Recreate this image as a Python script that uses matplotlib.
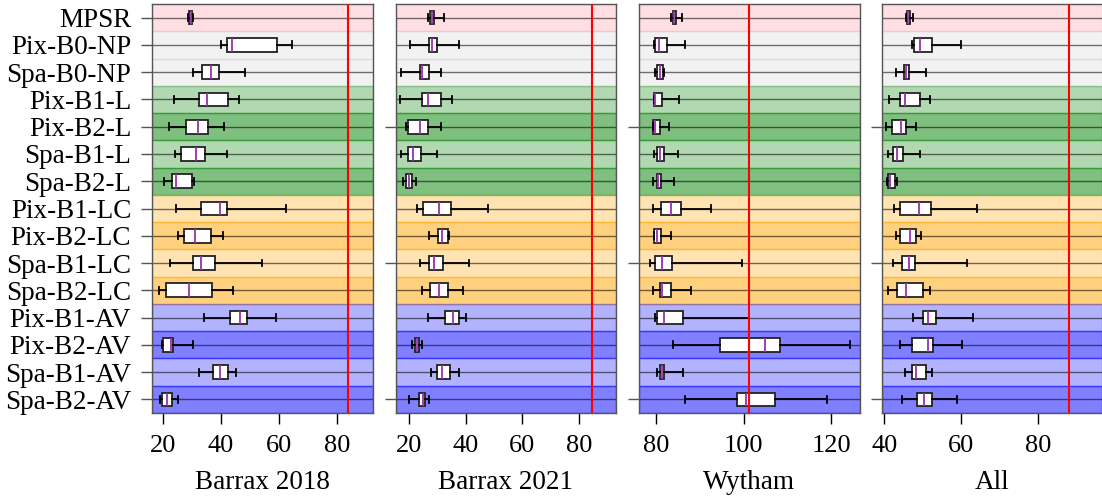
import matplotlib.pyplot as plt

plt.rcParams['font.family'] = ['Liberation Serif', 'DejaVu Serif']

methods = ['MPSR', 'Pix-B0-NP', 'Spa-B0-NP', 'Pix-B1-L', 'Pix-B2-L', 'Spa-B1-L', 'Spa-B2-L',
           'Pix-B1-LC', 'Pix-B2-LC', 'Spa-B1-LC', 'Spa-B2-LC',
           'Pix-B1-AV', 'Pix-B2-AV', 'Spa-B1-AV', 'Spa-B2-AV']
datasets = ['Barrax 2018', 'Barrax 2021', 'Wytham', 'All']

# rows: whisker low, q1, median, q3, whisker high (one row per method)
barrax2018 = [
    (28.7, 28.9, 29.5, 30.0, 30.4),
    (40.1, 42.2, 43.7, 59.2, 64.6),
    (30.5, 33.4, 36.4, 39.2, 48.4),
    (23.8, 32.5, 35.1, 42.3, 46.2),
    (22.1, 28.0, 32.0, 35.5, 41.0),
    (24.0, 26.1, 31.3, 34.6, 42.0),
    (20.5, 23.2, 24.4, 30.0, 30.7),
    (24.4, 33.2, 39.7, 42.0, 62.5),
    (25.2, 27.4, 31.0, 36.7, 40.6),
    (22.4, 30.5, 33.1, 37.8, 54.2),
    (18.6, 21.1, 28.9, 36.9, 44.3),
    (34.3, 43.0, 46.6, 49.1, 58.9),
    (19.8, 20.1, 22.6, 23.4, 30.5),
    (32.5, 37.2, 39.8, 42.4, 45.3),
    (19.1, 19.8, 21.3, 23.2, 25.2),
]
barrax2021 = [
    (26.7, 27.6, 28.2, 28.8, 32.5),
    (20.5, 27.2, 28.3, 30.1, 37.8),
    (17.3, 24.0, 24.8, 27.0, 31.4),
    (17.0, 24.8, 26.9, 31.2, 35.2),
    (19.1, 19.8, 24.1, 26.7, 31.5),
    (17.3, 19.9, 21.6, 24.4, 29.8),
    (17.9, 18.9, 20.1, 21.2, 22.6),
    (23.0, 25.1, 30.8, 35.0, 48.0),
    (27.0, 30.2, 31.8, 33.7, 34.3),
    (24.0, 27.2, 28.8, 32.2, 41.1),
    (24.8, 27.4, 30.5, 33.9, 39.0),
    (26.9, 32.8, 35.6, 37.8, 40.3),
    (21.0, 22.1, 22.9, 23.7, 24.8),
    (27.7, 30.1, 31.6, 34.6, 37.8),
    (20.0, 23.7, 24.9, 25.8, 27.2),
]
wytham = [
    (83.5, 83.9, 84.2, 84.5, 85.9),
    (79.5, 79.8, 80.6, 82.4, 86.5),
    (79.7, 80.2, 80.9, 81.6, 81.8),
    (79.5, 79.6, 79.8, 81.3, 85.3),
    (79.2, 79.4, 79.7, 80.8, 82.9),
    (79.6, 80.3, 80.8, 81.7, 85.1),
    (79.3, 80.1, 80.5, 81.2, 84.2),
    (79.2, 81.1, 83.3, 85.6, 92.6),
    (79.5, 79.6, 80.2, 81.1, 83.4),
    (78.5, 79.8, 81.4, 83.7, 99.6),
    (79.2, 80.8, 81.4, 83.4, 88.0),
    (79.8, 80.3, 81.8, 86.2, 101.3),
    (83.8, 94.6, 104.9, 108.4, 124.3),
    (80.2, 80.9, 81.4, 81.9, 86.2),
    (86.5, 98.4, 100.5, 107.2, 119.0),
]
all_sites = [
    (45.7, 45.9, 46.3, 46.6, 47.6),
    (47.2, 47.7, 49.2, 52.5, 60.0),
    (43.0, 45.1, 45.8, 46.5, 50.9),
    (41.2, 44.2, 45.4, 49.4, 51.9),
    (40.5, 42.1, 44.3, 45.8, 48.2),
    (41.0, 42.4, 43.2, 44.9, 49.4),
    (40.6, 41.0, 41.4, 42.9, 43.4),
    (42.6, 44.2, 49.0, 52.2, 64.1),
    (43.1, 44.1, 46.8, 48.3, 49.5),
    (42.4, 44.6, 46.4, 47.9, 61.6),
    (41.1, 43.4, 45.7, 50.2, 52.0),
    (47.4, 50.1, 51.4, 53.5, 63.1),
    (44.1, 47.3, 51.4, 52.7, 60.2),
    (45.5, 47.3, 48.4, 50.9, 52.5),
    (44.7, 48.6, 50.4, 52.5, 58.9),
]
thresholds = [83.9, 84.6, 101.3, 88.2]

all_stats = [barrax2018, barrax2021, wytham, all_sites]
xlims = [(16.2, 92.4), (15.4, 92.9), (76.1, 126.5), (39.5, 96.7)]
xticks = [[20, 40, 60, 80], [20, 40, 60, 80], [80, 100, 120], [40, 60, 80]]
# panel left/right edges in pixels
edges = [(152, 373), (395.7, 616), (639, 859.7), (882.3, 1102)]

# background band for each row: (colour, alpha)
bands = [('pink', 0.5), ('gray', 0.1), ('gray', 0.1)]
for fam in ['green', 'orange', 'blue']:
    bands += [(fam, 0.3), (fam, 0.5), (fam, 0.3), (fam, 0.5)]

W, H = 1102, 499
fig = plt.figure(figsize=(W / 100, H / 100), dpi=100)
top, bottom = 4, 413

for k, name in enumerate(datasets):
    x0, x1 = edges[k]
    ax = fig.add_axes([x0 / W, (H - bottom) / H, (x1 - x0) / W, (bottom - top) / H])

    for i, (c, a) in enumerate(bands):
        ax.axhspan(i - 0.5, i + 0.5, facecolor=c, alpha=a, edgecolor=c, lw=1, zorder=0)
        ax.axhline(i, color='black', alpha=0.55, lw=1, zorder=1)

    stats = [dict(whislo=s[0], q1=s[1], med=s[2], q3=s[3], whishi=s[4], fliers=[])
             for s in all_stats[k]]
    ax.bxp(stats, positions=range(len(methods)), orientation='horizontal', widths=0.5,
           capwidths=0.25, patch_artist=True, showfliers=False,
           boxprops=dict(facecolor='white', edgecolor='#222222', lw=1.3),
           medianprops=dict(color='#9a2fb0', lw=1.3),
           whiskerprops=dict(color='black', lw=1.3),
           capprops=dict(color='black', lw=1.3), zorder=3)

    ax.axvline(thresholds[k], color='red', lw=1.5, zorder=4)

    ax.set_xlim(*xlims[k])
    ax.set_ylim(len(methods) - 0.5, -0.5)
    ax.set_xticks(xticks[k])
    ax.tick_params(axis='x', length=8, width=1, labelsize=19, pad=8)
    ax.set_xlabel(name, fontsize=19.5, labelpad=9)

    if k == 0:
        ax.set_yticks(range(len(methods)))
        ax.set_yticklabels(methods, fontsize=19.5)
        ax.tick_params(axis='y', length=8, width=1, colors='#555555', labelcolor='black', pad=7)
    else:
        ax.set_yticks([4, 9, 14])
        ax.set_yticklabels([])
        ax.tick_params(axis='y', length=8, width=1, colors='#555555')

    for side, sp in ax.spines.items():
        sp.set_color('#555555')
        sp.set_linewidth(1)
    if k == 3:
        ax.spines['right'].set_visible(False)

fig.savefig('out.png', dpi=100)
